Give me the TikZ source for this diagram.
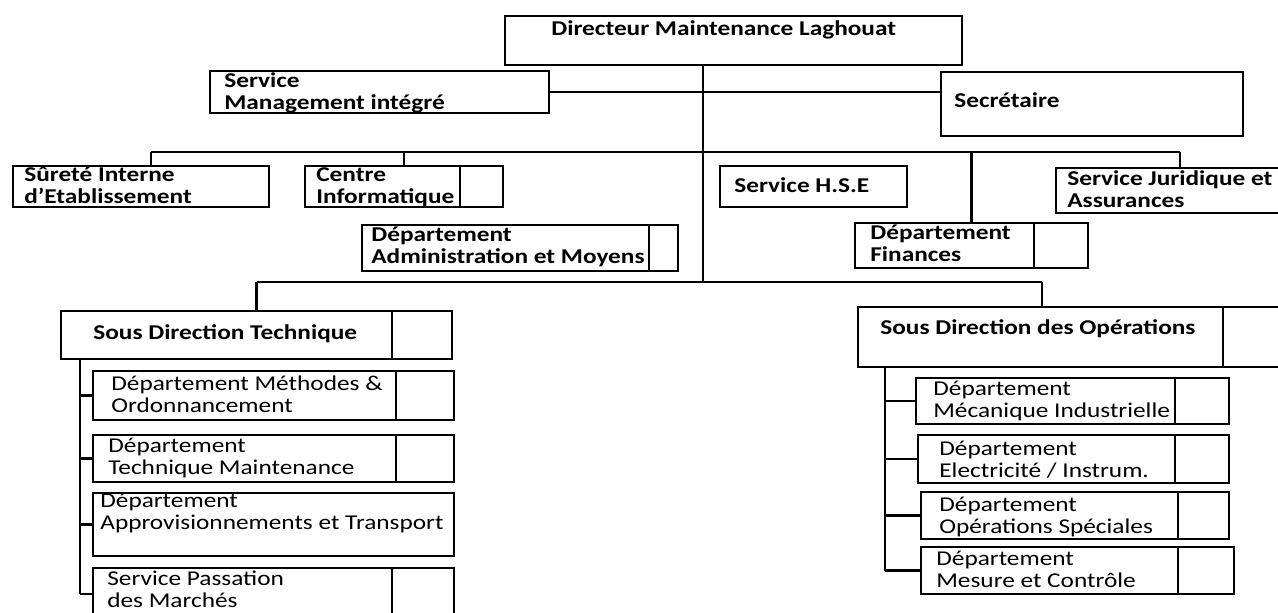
\documentclass[tikz,border=0pt]{standalone}
\usepackage{fontspec}
\setmainfont[FakeStretch=1.2]{Carlito}
\usetikzlibrary{positioning, calc, fit}

\tikzset{
  cadre/.style={draw, line width=1.3pt, inner sep=0pt},
  lien/.style={line width=1.3pt},
  txt/.style={font=\fontsize{12}{12.5}\selectfont\bfseries, align=left, anchor=base west, inner sep=0pt},
  txtn/.style={txt, font=\fontsize{12}{12.5}\selectfont}
}

\begin{document}
\begin{tikzpicture}[x=0.02cm, y=-0.02cm]
\useasboundingbox (0,0) rectangle (1278,612);
\clip (0,0) rectangle (1278,612);

% Cadres
\foreach \n/\xa/\ya/\xb/\yb in {dir/505/16/962/65, smi/210/71/549/113, sec/941/72/1243/136,
    sur/13/166/269/207, cen/305/166/503/207, adm/362/225/678/271, hse/720/166/907/207,
    fin/855/223/1088/268, jur/1056/168/1304/213, sdt/61/311/452/359, sdo/858/307/1300/367,
    met/93/371/454/420, tma/93/435/454/482, app/93/493/454/556, spm/93/568/454/620,
    mec/916/378/1229/424, ele/918/435/1229/483, ops/921/492/1229/539, mes/921/547/1234/594}{
  \node[cadre, fit={(\xa,\ya) (\xb,\yb)}] (\n) {};
}

% Cloisons
\foreach \n/\d in {cen/44, adm/30, fin/55, sdt/61, sdo/78, met/59, tma/59, spm/63,
    mec/55, ele/55, ops/52, mes/57}{
  \draw[lien] ($(\n.north east)+(-\d,0)$) -- ($(\n.south east)+(-\d,0)$);
}

% Textes (ancre sur la derniere ligne)
\node[txt] (t-dir) at (551,35) {Directeur Maintenance Laghouat};
\node[txt] (t-smi) at (224,109) {Service\\Management intégré};
\node[txt] (t-sec) at (954,107) {Secrétaire};
\node[txt] (t-sur) at (24,203) {Sûreté Interne\\d’Etablissement};
\node[txt] (t-cen) at (316,203) {Centre\\Informatique};
\node[txt] (t-adm) at (371,263) {Département\\Administration et Moyens};
\node[txt] (t-hse) at (734,192) {Service H.S.E};
\node[txt] (t-fin) at (870,261) {Département\\Finances};
\node[txt] (t-jur) at (1067,207) {Service Juridique et\\Assurances};
\node[txt] (t-sdt) at (93,339) {Sous Direction Technique};
\node[txt] (t-sdo) at (880,334) {Sous Direction des Opérations};
\node[txtn] (t-met) at (111,412) {Département Méthodes \&\\Ordonnancement};
\node[txtn] (t-tma) at (108,474) {Département\\Technique Maintenance};
\node[txtn] (t-app) at (100,529) {Département\\Approvisionnements et Transport};
\node[txtn] (t-spm) at (107,607) {Service Passation\\des Marchés};
\node[txtn] (t-mec) at (933,417) {Département\\Mécanique Industrielle};
\node[txtn] (t-ele) at (939,477) {Département\\Electricité / Instrum.};
\node[txtn] (t-ops) at (939,533) {Département\\Opérations Spéciales};
\node[txtn] (t-mes) at (936,587) {Département\\Mesure et Contrôle};

% Liaisons
\coordinate (tr) at (703,282);
\coordinate (b1a) at (151,152);
\coordinate (b1b) at (1180,152);
\coordinate (b2b) at (1042,282);
\draw[lien] (dir.south -| tr) -- (tr);
\draw[lien] (smi.east) -- (sec.west |- smi.east);
\draw[lien] (b1a) -- (b1b);
\draw[lien] (b1a) -- (b1a |- sur.north);
\draw[lien] (cen.north |- b1a) -- (cen.north);
\draw[lien] ($(adm.north)+(26,0)$) -- ($(adm.north)+(26,0)$ |- b1a);
\draw[lien] ($(hse.north)+(26,0)$) -- ($(hse.north)+(26,0)$ |- b1a);
\draw[lien] (fin.north |- b1a) -- (fin.north);
\draw[lien] (b1b) -- (jur.north);
\draw[lien] (sdt.north |- tr) -- (b2b);
\draw[lien] (sdt.north |- tr) -- (sdt.north);
\draw[lien] (b2b) -- (b2b |- sdo.north);

% Rattachements des sous-directions
\coordinate (vg) at (80,359);
\coordinate (vd) at (885,367);
\draw[lien] (vg) -- (vg |- spm.west);
\draw[lien] (vd) -- (vd |- mes.west);
\foreach \n in {met, tma, app, spm}{
  \draw[lien] (vg |- \n.west) -- (\n.west);
}
\foreach \n in {mec, ele, ops, mes}{
  \draw[lien] (vd |- \n.west) -- (\n.west);
}
\end{tikzpicture}
\end{document}
